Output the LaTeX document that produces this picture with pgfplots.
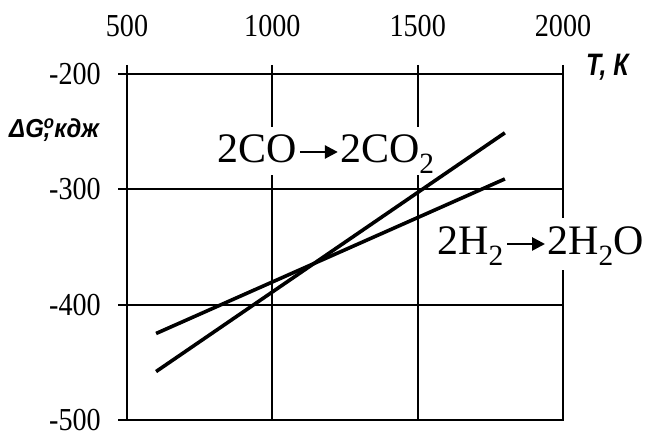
\documentclass[border=0pt]{standalone}
\usepackage{pgfplots}
\pgfplotsset{compat=1.18}
\usetikzlibrary{arrows.meta}
\usepackage{fontspec}
\setmainfont{Liberation Serif}
\setsansfont{Liberation Sans}
\newfontfamily\tickfont[FakeStretch=0.88]{Liberation Serif}
% reaction arrow with a solid head
\newcommand{\arr}{\kern2pt\tikz[baseline=-11pt]\draw[line width=2.6pt,-{Triangle[length=13pt,width=13pt]}] (0,0)--(38pt,0);\kern1pt}
\begin{document}
\begin{tikzpicture}
\useasboundingbox (0,0) rectangle (647pt,438pt);
\begin{axis}[
    at={(127pt,18pt)}, anchor=south west,
    scale only axis, width=436pt, height=346pt,
    xmin=500, xmax=2000, ymin=-500, ymax=-200,
    xtick={500,1000,1500,2000}, xticklabels={500,1000,1500,2000},
    ytick={-500,-400,-300,-200}, yticklabels={-500,-400,-300,-200},
    xtick pos=top, ytick pos=left, xticklabel pos=top,
    tick align=outside, major tick length=9pt,
    grid=major, grid style={black, line width=1.8pt},
    axis line style={line width=1.8pt},
    tick style={black, line width=1.8pt},
    ticklabel style={font=\tickfont\fontsize{32}{38}\selectfont, inner sep=1pt},
    xticklabel style={anchor=base, yshift=28pt},
    yticklabel style={anchor=east, xshift=-16pt},
]
\addplot[black, line width=3.6pt] coordinates {(600,-458) (1800,-251)};
\addplot[black, line width=3.6pt] coordinates {(600,-425) (1800,-291)};
\end{axis}
\node[anchor=base west, inner xsep=1pt, inner ysep=0pt, fill=white, text height=36pt, text depth=12pt,
      font=\fontsize{42}{50}\selectfont] at (216pt,275pt) {2CO\arr2CO\textsubscript{2}};
\node[anchor=base west, inner xsep=1pt, inner ysep=0pt, fill=white, text height=37pt, text depth=15pt,
      font=\fontsize{42}{50}\selectfont] at (436pt,183pt) {2H\textsubscript{2}\arr2H\textsubscript{2}O};
\node[anchor=base west, inner sep=0pt, font=\sffamily\bfseries\itshape\fontsize{31}{36}\selectfont]
      at (586pt,362pt) {\scalebox{0.8}[1]{T, К}};
\node[anchor=base west, inner sep=0pt, font=\sffamily\bfseries\itshape\fontsize{26}{30}\selectfont]
      at (9pt,300pt) {\scalebox{0.92}[1]{ΔG\rlap{\textsuperscript{o}},\,кдж}};
\end{tikzpicture}
\end{document}
